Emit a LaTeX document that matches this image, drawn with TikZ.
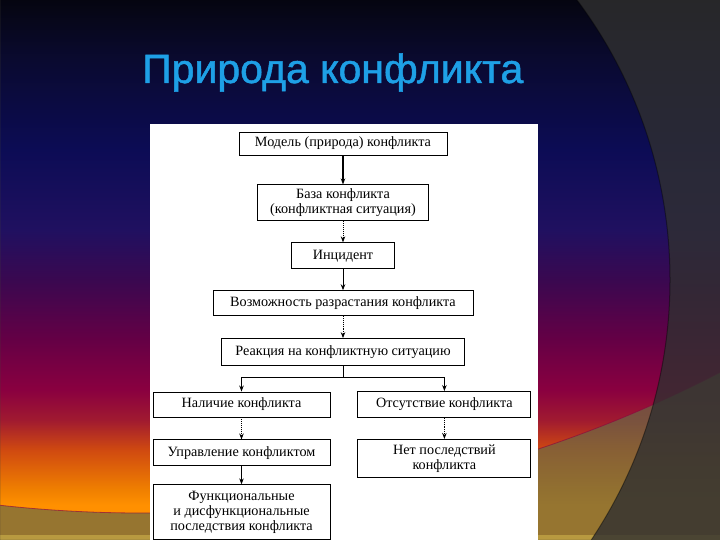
\documentclass[tikz,border=0pt]{standalone}
\usepackage{fontspec}
\setmainfont{Liberation Serif}
\newfontfamily\titlefont[FakeBold=1.2]{Liberation Sans}
\usetikzlibrary{positioning,arrows.meta}

\definecolor{skytop}{HTML}{050510}
\definecolor{skynight}{HTML}{0A0A30}
\definecolor{skynavy}{HTML}{0C0C55}
\definecolor{skyindigo}{HTML}{201060}
\definecolor{skypurple}{HTML}{3A0850}
\definecolor{skyplum}{HTML}{650045}
\definecolor{skymagenta}{HTML}{8A0040}
\definecolor{skyred}{HTML}{A01A30}
\definecolor{skyrust}{HTML}{D04A10}
\definecolor{skyamber}{HTML}{F08000}
\definecolor{skyorange}{HTML}{FF9000}
\definecolor{horizon}{HTML}{6A6A45}
\definecolor{shadowgrey}{HTML}{303030}
\definecolor{sandstrip}{HTML}{B89A40}
\definecolor{titleblue}{RGB}{30,160,230}

\pgfdeclareverticalshading{eveningsky}{100bp}{color(0bp)=(skyorange); color(25bp)=(skyorange); color(28.24bp)=(skyorange); color(29.63bp)=(skyamber); color(33.33bp)=(skyrust); color(36.11bp)=(skyred); color(38.89bp)=(skymagenta); color(43.52bp)=(skyplum); color(49.07bp)=(skypurple); color(53.7bp)=(skyindigo); color(61.11bp)=(skynavy); color(69.44bp)=(skynight); color(75bp)=(skytop); color(100bp)=(skytop)}

\begin{document}
\begin{tikzpicture}[x=1pt,y=1pt,
    box/.style={rectangle,draw,fill=white,line width=0.9pt,align=center,inner sep=2pt,font=\fontsize{14.2}{15}\selectfont},
    arrow/.style={-{Stealth[length=6pt,width=4.5pt]},line width=0.9pt},
    faint/.style={densely dotted}
    ]
  \useasboundingbox (0,0) rectangle (720,540);
  \shade[shading=eveningsky] (0,0) rectangle (720,540);
  \begin{scope}
    \clip (0,0) rectangle (720,540);
    \fill[horizon,fill opacity=0.7,even odd rule] (0,0) rectangle (720,540) (140.6,1289) circle[radius=1262pt];
    \draw[skymagenta,line width=0.8pt,draw opacity=0.6] (140.6,1289) circle[radius=1262pt];
    \fill[sandstrip] (0,0) rectangle (720,5);
    \fill[shadowgrey,fill opacity=0.8,even odd rule] (0,0) rectangle (720,540) (202,260) circle[radius=468pt];
    \draw[black,line width=1pt,draw opacity=0.4] (202,260) circle[radius=468pt];
  \end{scope}

  \node[anchor=base west,text=titleblue,inner sep=0pt,font=\titlefont\fontsize{41}{48}\selectfont] (title) at (142,457) {Природа конфликта};

  \fill[white] (150,0) rectangle (538,416);

  \node[box,minimum width=208pt,minimum height=23pt] (model) at (343,396.5) {Модель (природа) конфликта};
  \node[box,minimum width=171pt,minimum height=36pt,below=29pt of model] (base) {База конфликта\\(конфликтная ситуация)};
  \node[box,minimum width=103pt,minimum height=26pt,below=21pt of base] (incident) {Инцидент};
  \node[box,minimum width=260pt,minimum height=25pt,below=21pt of incident] (growth) {Возможность разрастания конфликта};
  \node[box,minimum width=243pt,minimum height=27pt,below=22pt of growth] (reaction) {Реакция на конфликтную ситуацию};
  \coordinate (fork) at ([yshift=-11pt]reaction.south);
  \node[box,minimum width=177pt,minimum height=25pt] (present) at (241.5,135.5) {Наличие конфликта};
  \node[box,minimum width=173pt,minimum height=26pt,right=27pt of present] (absent) {Отсутствие конфликта};
  \node[box,minimum width=177pt,minimum height=26pt,below=22pt of present] (manage) {Управление конфликтом};
  \node[box,minimum width=173pt,minimum height=38pt,below=21pt of absent] (noeffect) {Нет последствий\\конфликта};
  \node[box,minimum width=177pt,minimum height=55pt,below=18pt of manage] (effects) {Функциональные\\и дисфункциональные\\последствия конфликта};

  \draw[arrow,line width=1.2pt] (model) -- (base);
  \draw[arrow,faint] (base) -- (incident);
  \draw[arrow] (incident) -- (growth);
  \draw[arrow,faint] (growth) -- (reaction);
  \draw[line width=0.9pt] (reaction) -- (fork);
  \draw[arrow] (fork) -| (present);
  \draw[arrow] (fork) -| (absent);
  \draw[arrow,faint] (present) -- (manage);
  \draw[arrow,faint] (absent) -- (noeffect);
  \draw[arrow] (manage) -- (effects);

\end{tikzpicture}
\end{document}
